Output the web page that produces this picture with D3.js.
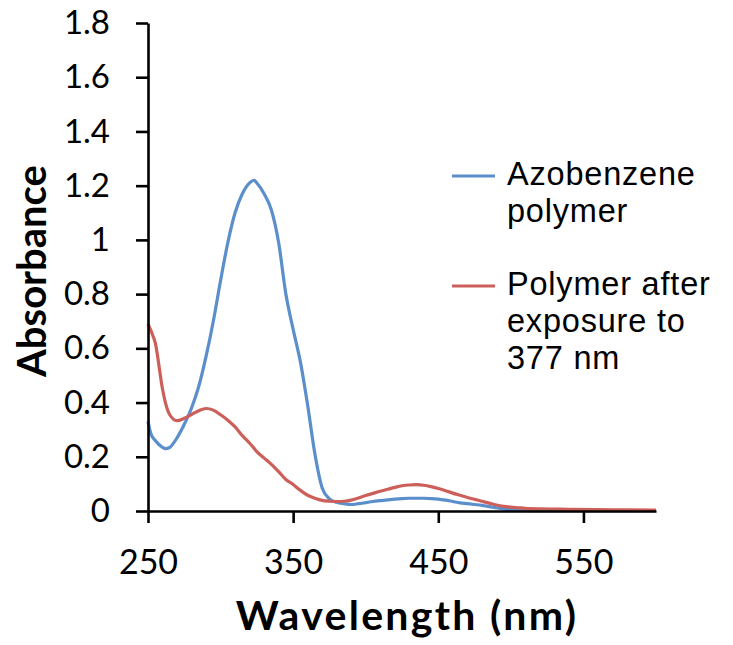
<!DOCTYPE html>
<html>
<head>
<meta charset="utf-8">
<script src="https://cdn.jsdelivr.net/npm/d3@7"></script>
<style>
  body { margin: 0; background: #fff; }
  text { font-family: Lato, "Open Sans", sans-serif; fill: #000; }
</style>
</head>
<body>
<svg id="chart"></svg>
<script>
// wavelength (nm)
var wavelengths = [250,252,255,260,262,265,270,275,280,285,290,295,300,305,310,315,320,323,325,330,335,340,345,350,355,360,365,370,375,380,385,390,395,400,405,410,415,420,425,430,435,440,445,450,455,460,465,470,475,480,485,490,495,500,505,510,520,530,540,560,580,600]
// Azobenzene polymer
var azoValues = [0.33,0.285,0.26,0.235,0.23,0.235,0.27,0.32,0.38,0.46,0.57,0.70,0.85,0.99,1.10,1.17,1.21,1.22,1.21,1.17,1.11,0.99,0.80,0.67,0.55,0.39,0.21,0.085,0.045,0.032,0.027,0.024,0.027,0.031,0.035,0.038,0.041,0.044,0.046,0.047,0.047,0.047,0.046,0.044,0.040,0.035,0.030,0.027,0.024,0.021,0.016,0.012,0.008,0.005,0.003,0.002,0.001,0.001,0.001,0.001,0.001,0.001]
// Polymer after exposure to 377 nm
var exposedValues = [0.69,0.665,0.62,0.45,0.40,0.355,0.333,0.342,0.356,0.370,0.378,0.372,0.355,0.335,0.31,0.278,0.25,0.232,0.219,0.195,0.172,0.145,0.116,0.098,0.076,0.058,0.047,0.039,0.036,0.035,0.036,0.040,0.048,0.057,0.065,0.073,0.080,0.087,0.093,0.096,0.097,0.095,0.090,0.083,0.075,0.066,0.058,0.050,0.043,0.036,0.029,0.022,0.017,0.014,0.012,0.010,0.008,0.007,0.006,0.005,0.004,0.003]

var xTicks = [250,350,450,550]
var yTicks = [0,0.2,0.4,0.6,0.8,1,1.2,1.4,1.6,1.8]
var seriesNames = [["Azobenzene", "polymer"], ["Polymer after", "exposure to", "377 nm"]]
var seriesColors = ["#5B8FCB", "#CD5F5A"]

var dimensions = {
    width: 733,
    height: 645,
    margin: { top: 23, bottom: 134, right: 77, left: 148 }
}

var svg = d3.select("#chart")
            .attr("width", dimensions.width)
            .attr("height", dimensions.height)

var xScale = d3.scaleLinear()
               .domain([250, 600])
               .range([dimensions.margin.left, dimensions.width - dimensions.margin.right])

var yScale = d3.scaleLinear()
               .domain([0, 1.8])
               .range([dimensions.height - dimensions.margin.bottom, dimensions.margin.top])

var series = [azoValues, exposedValues].map(vals => wavelengths.map((w, i) => ({ x: w, y: vals[i] })))

var line = d3.line()
             .x(d => xScale(d.x))
             .y(d => yScale(d.y))
             .curve(d3.curveMonotoneX)

series.forEach((s, i) => {
    svg.append("path")
       .datum(s)
       .attr("d", line)
       .style("fill", "none")
       .style("stroke", seriesColors[i])
       .style("stroke-width", 3.2)
       .style("stroke-linejoin", "round")
})

var xAxisgen = d3.axisBottom(xScale).tickValues(xTicks).tickSize(12).tickSizeOuter(0).tickPadding(27).tickFormat(d3.format("d"))
var yAxisgen = d3.axisLeft(yScale).tickValues(yTicks).tickSize(12).tickSizeOuter(0).tickPadding(26).tickFormat(d => d3.format("~g")(d))

var xAxis = svg.append("g")
               .attr("transform", `translate(0,${yScale(0)})`)
               .call(xAxisgen)
var yAxis = svg.append("g")
               .attr("transform", `translate(${xScale(250)},0)`)
               .call(yAxisgen)

svg.selectAll(".domain, .tick line").attr("stroke", "#000").attr("stroke-width", 2.6)
svg.selectAll(".tick text").style("font-size", "33px").style("font-family", "Lato, 'Open Sans', sans-serif").attr("fill", "#000")
xAxis.selectAll(".tick text").style("font-size", "34px")

// axis titles
svg.append("text")
   .attr("x", 407).attr("y", 630)
   .attr("text-anchor", "middle")
   .style("font-size", "41px").style("font-weight", "bold").style("letter-spacing", "2.3px")
   .text("Wavelength (nm)")

svg.append("text")
   .attr("transform", "translate(46,271) rotate(-90)")
   .attr("text-anchor", "middle")
   .style("font-size", "40px").style("font-weight", "bold")
   .text("Absorbance")

// legend, one text per entry with a tspan per line
var legendY = [176, 286]
seriesNames.forEach((lines, i) => {
    var g = svg.append("g").attr("transform", `translate(452,${legendY[i]})`)
    g.append("line").attr("x1", 0).attr("x2", 43).attr("y1", 0).attr("y2", 0)
     .style("stroke", seriesColors[i]).style("stroke-width", 3.2)
    var t = g.append("text").attr("y", 9)
             .style("font-family", "'Liberation Sans', Arial, sans-serif")
             .style("font-size", "32.5px").style("letter-spacing", "0.8px")
    lines.forEach((s, j) => {
        t.append("tspan").attr("x", 55).attr("dy", j == 0 ? 0 : 37).text(s)
    })
})
</script>
</body>
</html>
